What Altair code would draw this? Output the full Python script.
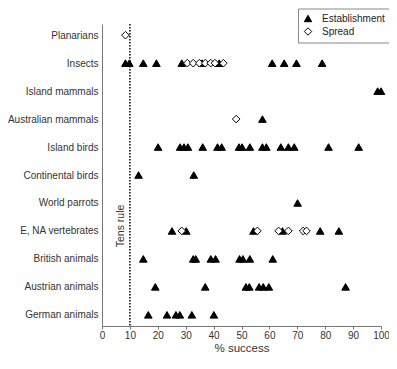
import altair as alt
import pandas as pd

categories = ["Planarians", "Insects", "Island mammals", "Australian mammals",
              "Island birds", "Continental birds", "World parrots",
              "E, NA vertebrates", "British animals", "Austrian animals",
              "German animals"]

establishment = {
    "Planarians": [],
    "Insects": [8.4, 9.8, 14.8, 19.5, 28.6, 35.9, 42.0, 61.0, 65.3, 69.7, 78.9],
    "Island mammals": [98.8, 100.0],
    "Australian mammals": [57.5],
    "Island birds": [20.1, 28.0, 29.4, 30.8, 36.1, 41.4, 42.9, 49.1, 50.2, 53.0,
                     57.5, 58.9, 64.1, 66.8, 68.9, 81.2, 92.0],
    "Continental birds": [13.1, 32.9],
    "World parrots": [70.1],
    "E, NA vertebrates": [25.1, 30.2, 54.3, 64.7, 78.2, 84.9],
    "British animals": [14.8, 32.7, 33.6, 39.0, 40.7, 49.3, 50.5, 53.0, 61.2],
    "Austrian animals": [19.1, 37.0, 51.6, 52.8, 56.3, 57.8, 59.8, 87.3],
    "German animals": [16.6, 23.3, 26.5, 27.9, 32.2, 40.1],
}

spread = {
    "Planarians": [8.4],
    "Insects": [30.6, 32.7, 34.9, 37.0, 39.0, 40.5, 43.5],
    "Australian mammals": [48.1],
    "E, NA vertebrates": [28.6, 55.7, 63.3, 66.8, 72.1, 73.3],
}

x_ticks = [0, 10, 20, 30, 40, 50, 60, 70, 80, 90, 100]
tens_rule = 10
types = ["Establishment", "Spread"]

rows = []
for cat in categories:
    for v in establishment.get(cat, []):
        rows.append({"group": cat, "value": v, "type": "Establishment"})
for cat in categories:
    for v in spread.get(cat, []):
        rows.append({"group": cat, "value": v, "type": "Spread"})
df = pd.DataFrame(rows)

font = "Liberation Sans"

xscale = alt.Scale(domain=[0, 100], nice=False, zero=False)
yscale = alt.Scale(domain=categories, type="point", padding=0.4)
leg = alt.Legend(title=None, orient="none", legendX=196, legendY=-15.5)

x_axis = alt.Axis(values=x_ticks, grid=False, tickSize=3,
                  labelFontSize=10, titleFontSize=11.5,
                  titleFontWeight="normal", labelPadding=1,
                  titlePadding=2, domainColor="#777", tickColor="#777",
                  labelColor="#333", titleColor="#333",
                  labelOverlap=False, labelFlush=False)
y_axis = alt.Axis(ticks=False, grid=False, labelFontSize=10,
                  labelPadding=4, domainColor="#777", labelColor="#333")

points = alt.Chart(df).mark_point(
    filled=True, strokeWidth=1, opacity=1, size=58
).encode(
    x=alt.X("value:Q", scale=xscale, title="% success", axis=x_axis),
    y=alt.Y("group:N", scale=yscale, title=None, sort=categories, axis=y_axis),
    shape=alt.Shape("type:N", scale=alt.Scale(domain=types,
                                              range=["triangle-up", "diamond"]),
                    legend=leg),
    fill=alt.Fill("type:N", scale=alt.Scale(domain=types,
                                            range=["black", "white"]),
                  legend=leg),
    stroke=alt.Stroke("type:N", scale=alt.Scale(domain=types,
                                                range=["black", "black"]),
                      legend=leg),
)

rule = alt.Chart(pd.DataFrame({"value": [tens_rule]})).mark_rule(
    color="black", strokeDash=[1.5, 1.5], strokeWidth=1.5
).encode(x=alt.X("value:Q", scale=xscale, title="% success", axis=x_axis))

label = alt.Chart(pd.DataFrame({"value": [tens_rule], "group": ["E, NA vertebrates"],
                                "t": ["Tens rule"]})).mark_text(
    angle=270, fontSize=10.5, font=font, color="#333", baseline="middle",
    align="center", dy=-9, dx=5
).encode(x=alt.X("value:Q", scale=xscale, title="% success", axis=x_axis),
         y=alt.Y("group:N", scale=yscale, sort=categories, title=None,
                 axis=y_axis),
         text="t:N")

chart = alt.layer(rule, points, label).properties(
    width=279, height=302,
    autosize=alt.AutoSizeParams(type="none"),
    padding={"left": 94, "top": 16, "right": 8, "bottom": 28},
).configure(font=font).configure_view(stroke=None).configure_legend(
    fillColor="white", strokeColor="#888", padding=5, rowPadding=1,
    symbolSize=55, labelFontSize=10, labelOffset=9, cornerRadius=0,
    symbolStrokeWidth=1, labelColor="#222"
)

chart.save("out.html", embed_options={"renderer": "svg", "actions": False})
